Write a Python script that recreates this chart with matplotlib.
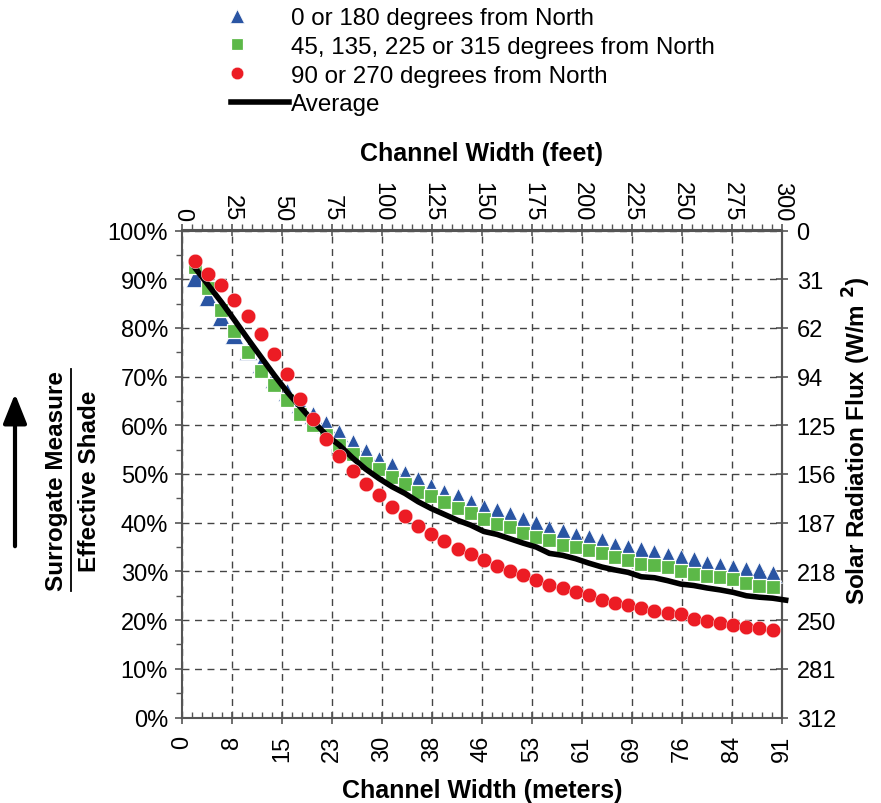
import matplotlib
matplotlib.use("Agg")
import matplotlib.pyplot as plt
from matplotlib.lines import Line2D
from matplotlib.legend_handler import HandlerLine2D
from matplotlib.ticker import MultipleLocator

plt.rcParams['font.family'] = ['Liberation Sans', 'DejaVu Sans']

# channel width of each sample (meters)
width_m = list(range(2, 92, 2))
avg_width_m = list(range(2, 94, 2))

# effective shade (%)
shade_0_180 = [90.2, 86.4, 82.2, 78.5, 75.2, 72.5, 69.6, 66.8, 64.3, 62.2, 60.3, 58.4,
               56.4, 54.5, 52.9, 51.6, 50.1, 48.8, 47.4, 46.2, 45.3, 44.1, 43.1, 42.4,
               41.6, 40.5, 39.7, 38.8, 38.1, 37.3, 36.9, 36.2, 35.3, 34.9, 34.3, 33.8,
               33.1, 32.8, 32.3, 31.5, 31.2, 30.7, 30.3, 30.0, 29.5]
shade_45 = [92.5, 88.2, 83.7, 79.4, 75.1, 71.1, 68.2, 65.1, 62.4, 60.1, 58.0, 55.9,
            54.2, 52.3, 51.1, 49.4, 48.0, 46.4, 45.4, 44.2, 43.0, 41.9, 40.8, 39.8,
            39.2, 37.8, 37.1, 36.4, 35.5, 35.1, 34.4, 33.7, 33.0, 32.4, 31.6, 31.3,
            30.9, 30.0, 29.5, 29.1, 28.8, 28.4, 27.7, 27.1, 26.8]
shade_90_270 = [93.8, 91.1, 88.8, 85.7, 82.5, 78.7, 74.7, 70.5, 65.4, 61.2, 57.2, 53.7,
                50.7, 48.0, 45.6, 43.2, 41.3, 39.3, 37.7, 36.3, 34.6, 33.5, 32.4, 31.2,
                30.0, 29.3, 28.2, 27.3, 26.5, 25.7, 25.1, 24.1, 23.6, 23.1, 22.5, 21.8,
                21.4, 21.2, 20.3, 19.9, 19.5, 19.0, 18.6, 18.3, 17.9]
shade_avg = [92.3, 88.8, 85.3, 81.6, 77.8, 74.1, 70.4, 66.9, 63.8, 60.8, 58.0, 55.9,
             53.3, 51.0, 49.1, 47.4, 46.0, 44.3, 42.9, 41.7, 40.5, 39.5, 38.2, 37.6,
             36.7, 35.8, 35.0, 33.7, 33.3, 32.6, 31.7, 30.9, 30.3, 29.8, 28.9, 28.7,
             28.1, 27.4, 27.1, 26.6, 26.2, 25.7, 25.0, 24.7, 24.5, 24.1]

labels = ['0 or 180 degrees from North',
          '45, 135, 225 or 315 degrees from North',
          '90 or 270 degrees from North',
          'Average']

feet_ticks = [0, 25, 50, 75, 100, 125, 150, 175, 200, 225, 250, 275, 300]
meter_labels = ['0', '8', '15', '23', '30', '38', '46', '53', '61', '69', '76', '84', '91']
pct_ticks = [0, 10, 20, 30, 40, 50, 60, 70, 80, 90, 100]
flux_labels = ['312', '281', '250', '218', '187', '156', '125', '94', '62', '31', '0']

FT = 0.3048
x_ft = [m / FT for m in width_m]
x_avg_ft = [m / FT for m in avg_width_m]

W, H = 881, 804
fig = plt.figure(figsize=(W / 100, H / 100), dpi=100)
ax = fig.add_axes([182 / W, 1 - 718.5 / H, 600 / W, 487 / H])

blue = '#2a55a3'
green = '#5cb848'
red = '#ec1c24'
gcol = '#555555'

l1, = ax.plot(x_ft, shade_0_180, linestyle='none', marker='^', ms=12.5, color=blue,
              mec='white', mew=0.5, zorder=3)
l2, = ax.plot(x_ft, shade_45, linestyle='none', marker='s', ms=10.5, color=green,
              mec='white', mew=0.9, zorder=4)
l4, = ax.plot(x_avg_ft, shade_avg, color='black', lw=4, zorder=5, clip_on=False)
l3, = ax.plot(x_ft, shade_90_270, linestyle='none', marker='o', ms=10.5, color=red,
              mec='white', mew=0.3, zorder=6)

ax.set_xlim(0, 300)
ax.set_ylim(0, 100)
ax.set_xticks(feet_ticks, meter_labels, rotation=90)
ax.xaxis.set_minor_locator(MultipleLocator(5))
ax.set_yticks(pct_ticks, [f'{p}%' for p in pct_ticks])
ax.yaxis.set_minor_locator(MultipleLocator(5))
ax.grid(which='major', color='#444444', linestyle=(0, (5, 4)), linewidth=1.0)
ax.set_axisbelow(True)
for s in ax.spines.values():
    s.set_color(gcol)
    s.set_linewidth(1.5)
ax.tick_params(axis='x', which='major', direction='inout', length=9, width=1.2,
               color=gcol, labelsize=17, pad=8)
ax.tick_params(axis='x', which='minor', direction='in', length=4, width=1, color=gcol)
ax.tick_params(axis='y', which='major', direction='out', length=5, width=1.2,
               color=gcol, labelsize=17, pad=5)
ax.tick_params(axis='y', which='minor', direction='out', length=4, width=1, color=gcol)
ax.set_xlabel('Channel Width (meters)', fontsize=18, fontweight='bold', labelpad=12)

# top axis in feet
axt = ax.secondary_xaxis('top')
axt.set_xticks(feet_ticks, [str(f) for f in feet_ticks], rotation=-90)
axt.xaxis.set_minor_locator(MultipleLocator(5))
axt.tick_params(axis='x', which='major', direction='inout', length=9, width=1.2,
                color=gcol, labelsize=17, pad=3)
axt.tick_params(axis='x', which='minor', direction='out', length=4, width=1, color=gcol)
axt.spines['top'].set_color(gcol)
axt.spines['top'].set_linewidth(1.5)
axt.set_xlabel('Channel Width (feet)', fontsize=18, fontweight='bold', labelpad=15)

# right axis: solar radiation flux
axr = ax.secondary_yaxis('right')
axr.set_yticks(pct_ticks, flux_labels)
axr.tick_params(axis='y', which='major', direction='inout', length=9, width=1.2,
                color=gcol, labelsize=17, pad=6)
axr.spines['right'].set_color(gcol)
axr.spines['right'].set_linewidth(1.5)
fig.text(857 / W, 1 - 441 / H, 'Solar Radiation Flux (W/m $^{\\mathbf{2}}$)', rotation=90,
         ha='center', va='center', fontsize=17.5, fontweight='bold')

# left label as a fraction with an arrow
fig.text(57 / W, 1 - 481 / H, 'Surrogate Measure', rotation=90, ha='center', va='center',
         fontsize=17.5, fontweight='bold')
fig.text(89 / W, 1 - 481 / H, 'Effective Shade', rotation=90, ha='center', va='center',
         fontsize=17.5, fontweight='bold')
fig.add_artist(Line2D([71 / W, 71 / W], [1 - 370 / H, 1 - 592 / H], color='black', lw=1.3))
fig.add_artist(matplotlib.patches.FancyArrowPatch(
    (15 / W, 1 - 550 / H), (15 / W, 1 - 392 / H), transform=fig.transFigure,
    arrowstyle='-|>,head_width=0.4,head_length=1.0', mutation_scale=18, lw=3,
    color='black'))


# legend markers sit at the left end of the handle box, like the original
class LeftMarker(HandlerLine2D):
    def get_xdata(self, legend, xdescent, ydescent, width, height, fontsize):
        m = -xdescent + 0.1 * width
        return [m - 1, m + 1], [m]


hm = {l1: LeftMarker(numpoints=1), l2: LeftMarker(numpoints=1), l3: LeftMarker(numpoints=1)}
fig.legend([l1, l2, l3, l4], labels, loc='upper left', bbox_to_anchor=(231 / W, 1 - 8 / H),
           frameon=False, fontsize=17.4, handlelength=2.4, handletextpad=0.1,
           labelspacing=0.28, borderpad=0, borderaxespad=0, markerscale=0.85,
           handler_map=hm)

plt.savefig('out.png', dpi=100)
